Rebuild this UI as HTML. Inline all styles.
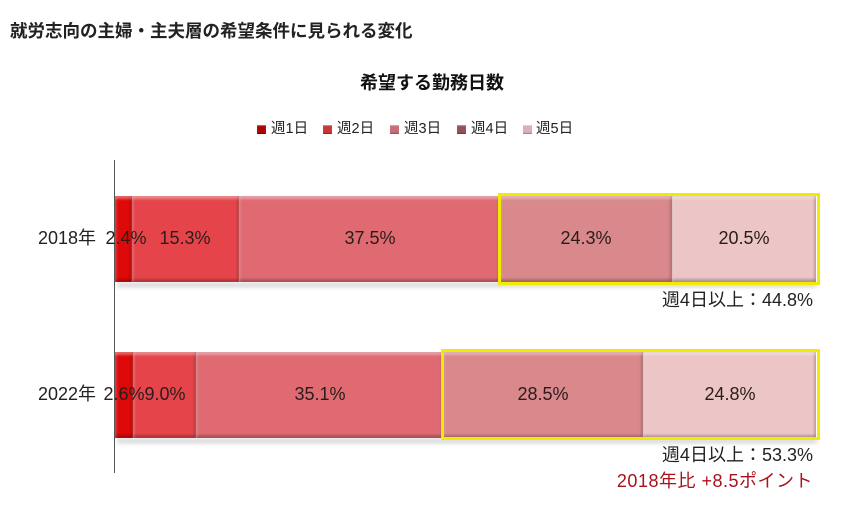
<!DOCTYPE html>
<html><head><meta charset="utf-8">
<style>
html,body{margin:0;padding:0;background:#fff;}
body{width:843px;height:516px;position:relative;overflow:hidden;font-family:"Liberation Sans","Noto Sans CJK JP",sans-serif;color:#222;}
.a{position:absolute;white-space:nowrap;}
.seg{position:absolute;box-sizing:border-box;
 box-shadow: inset 0 3px 2px rgba(255,255,255,0.35), inset 0 -3px 2px rgba(0,0,0,0.22), inset 2px 0 2px rgba(255,255,255,0.15), inset -2px 0 2px rgba(0,0,0,0.18);}
.shadow{position:absolute;background:rgba(0,0,0,0.18);filter:blur(2px);}
.lbl{position:absolute;font-size:18px;line-height:20px;text-align:center;color:#2a1c1c;white-space:nowrap;}
.box{position:absolute;box-sizing:border-box;border:3px solid #f2ea00;}
.lg{position:absolute;width:9px;height:9px;top:125px;box-shadow: inset 0 1px 1px rgba(255,255,255,0.4), inset 0 -1px 1px rgba(0,0,0,0.3);}
.lt{position:absolute;top:120px;font-size:14.5px;line-height:18px;color:#222;white-space:nowrap;}
</style></head><body>

<div class="a" style="left:10px;top:20px;font-size:17.5px;font-weight:bold;line-height:22px;color:#222;">就労志向の主婦・主夫層の希望条件に見られる変化</div>

<div class="a" style="left:360px;top:72px;font-size:18px;font-weight:bold;line-height:22px;color:#111;">希望する勤務日数</div>

<!-- legend -->
<div class="lg" style="left:257px;background:#b00404;"></div><div class="lt" style="left:271px;">週1日</div>
<div class="lg" style="left:323px;background:#c83838;"></div><div class="lt" style="left:337px;">週2日</div>
<div class="lg" style="left:390px;background:#c86e76;"></div><div class="lt" style="left:404px;">週3日</div>
<div class="lg" style="left:457px;background:#985058;"></div><div class="lt" style="left:471px;">週4日</div>
<div class="lg" style="left:523px;background:#d8b2b8;"></div><div class="lt" style="left:536px;">週5日</div>

<!-- shadows -->
<div class="shadow" style="left:117px;top:283px;width:700px;height:4px;"></div>
<div class="shadow" style="left:117px;top:439px;width:700px;height:4px;"></div>

<!-- 2018 bar -->
<div class="seg" style="left:115px;top:196px;width:17px;height:86px;background:#de0a0a;"></div>
<div class="seg" style="left:132px;top:196px;width:107px;height:86px;background:#e5454a;"></div>
<div class="seg" style="left:239px;top:196px;width:261px;height:86px;background:#df6a72;"></div>
<div class="seg" style="left:500px;top:196px;width:172px;height:86px;background:#d9888b;"></div>
<div class="seg" style="left:672px;top:196px;width:144px;height:86px;background:#ecc5c6;"></div>
<div class="box" style="left:498px;top:193px;width:322px;height:92px;"></div>

<!-- 2022 bar -->
<div class="seg" style="left:115px;top:352px;width:18px;height:86px;background:#de0a0a;"></div>
<div class="seg" style="left:133px;top:352px;width:63px;height:86px;background:#e5454a;"></div>
<div class="seg" style="left:196px;top:352px;width:247px;height:86px;background:#df6a72;"></div>
<div class="seg" style="left:443px;top:352px;width:200px;height:86px;background:#d9888b;"></div>
<div class="seg" style="left:643px;top:352px;width:173px;height:86px;background:#ecc5c6;"></div>
<div class="box" style="left:441px;top:349px;width:379px;height:91px;"></div>

<!-- axis -->
<div class="a" style="left:114px;top:160px;width:1px;height:313px;background:#555;"></div>

<!-- category labels -->
<div class="lbl" style="left:38px;top:228px;text-align:left;color:#222;">2018年</div>
<div class="lbl" style="left:38px;top:384px;text-align:left;color:#222;">2022年</div>

<!-- 2018 values -->
<div class="lbl" style="left:86px;top:228px;width:80px;">2.4%</div>
<div class="lbl" style="left:135px;top:228px;width:100px;">15.3%</div>
<div class="lbl" style="left:320px;top:228px;width:100px;">37.5%</div>
<div class="lbl" style="left:536px;top:228px;width:100px;">24.3%</div>
<div class="lbl" style="left:694px;top:228px;width:100px;">20.5%</div>

<!-- 2022 values -->
<div class="lbl" style="left:84px;top:384px;width:80px;">2.6%</div>
<div class="lbl" style="left:115px;top:384px;width:100px;">9.0%</div>
<div class="lbl" style="left:270px;top:384px;width:100px;">35.1%</div>
<div class="lbl" style="left:493px;top:384px;width:100px;">28.5%</div>
<div class="lbl" style="left:680px;top:384px;width:100px;">24.8%</div>

<!-- annotations -->
<div class="a" style="right:30px;top:290px;font-size:18px;line-height:20px;color:#222;">週4日以上：44.8%</div>
<div class="a" style="right:30px;top:445px;font-size:18px;line-height:20px;color:#222;">週4日以上：53.3%</div>
<div class="a" style="right:30px;top:471px;font-size:18px;line-height:20px;color:#a8121c;letter-spacing:0.5px;">2018年比 +8.5ポイント</div>

</body></html>
